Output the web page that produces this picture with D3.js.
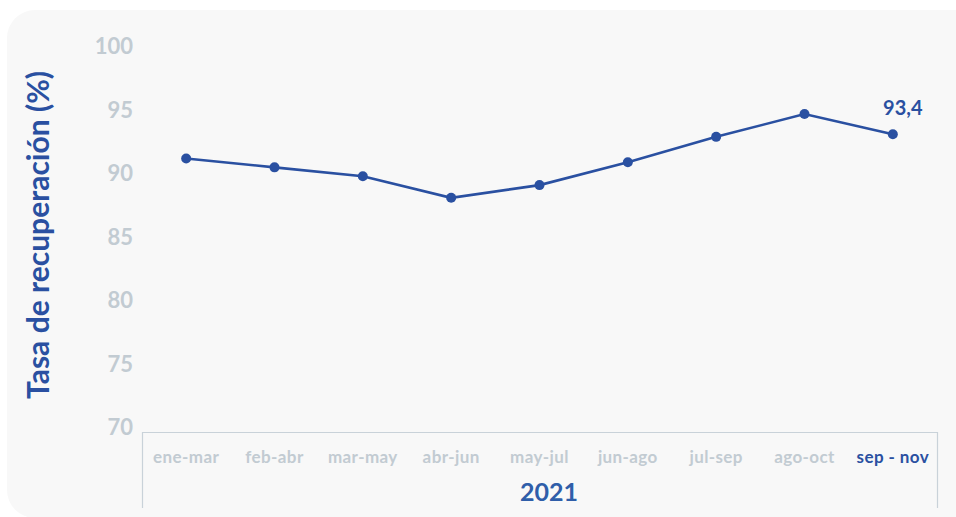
<!DOCTYPE html>
<html>
<head>
<meta charset="utf-8">
<script src="https://cdn.jsdelivr.net/npm/d3@7"></script>
<style>
  html, body { margin:0; padding:0; background:#ffffff; }
  svg { display:block; font-family: Lato, "Open Sans", sans-serif; }
</style>
</head>
<body>
<div id="chart"></div>
<script>
// data
var categories = ["ene-mar","feb-abr","mar-may","abr-jun","may-jul","jun-ago","jul-sep","ago-oct","sep - nov"];
var tasa = [91.5, 90.8, 90.1, 88.4, 89.4, 91.2, 93.2, 95.0, 93.4];
var yTicks = [70, 75, 80, 85, 90, 95, 100];
var yearLabel = "2021";
var yTitle = "Tasa de recuperación (%)";

var W = 956, H = 517;
var blue = "#2a50a1", gray = "#c2cbd2";

var svg = d3.select("#chart").append("svg")
    .attr("width", W)
    .attr("height", H);

// card background
svg.append("rect")
    .attr("x", 7).attr("y", 10)
    .attr("width", 975).attr("height", 508)
    .attr("rx", 28).attr("ry", 28)
    .style("fill", "#f8f8f8");

var x = d3.scaleBand()
    .domain(categories)
    .range([142, 937]);

var y = d3.scaleLinear()
    .domain([70, 100])
    .range([431.5, 50.5]);

// y tick labels (no axis line)
svg.append("g").selectAll("text")
    .data(yTicks)
    .enter().append("text")
        .attr("x", 133)
        .attr("y", function(d){ return y(d) - 4; })
        .attr("dy", "0.35em")
        .style("text-anchor", "end")
        .style("font-size", "22px")
        .style("font-weight", "bold")
        .style("fill", gray)
        .text(function(d){ return d; });

// x axis box
svg.append("path")
    .attr("d", "M142.5,508 V432.5 H937.5 V508")
    .style("fill", "none")
    .style("stroke", "#c9d2d9")
    .style("stroke-width", 1.2);

svg.append("g").selectAll("text")
    .data(categories)
    .enter().append("text")
        .attr("x", function(d){ return x(d) + x.bandwidth()/2; })
        .attr("y", 457)
        .attr("dy", "0.35em")
        .style("text-anchor", "middle")
        .style("font-size", "17px")
        .style("letter-spacing", "0.4px")
        .style("font-weight", "bold")
        .style("fill", function(d,i){ return i == categories.length-1 ? blue : gray; })
        .text(function(d){ return d; });

svg.append("text")
    .attr("x", 549)
    .attr("y", 492)
    .attr("dy", "0.35em")
    .style("text-anchor", "middle")
    .style("font-size", "25px")
    .style("font-weight", "bold")
    .style("fill", "#2f5ea9")
    .text(yearLabel);

// y title
svg.append("text")
    .attr("transform", "translate(38,235) rotate(-90)")
    .attr("dy", "0.35em")
    .style("text-anchor", "middle")
    .style("font-size", "30px")
    .style("font-weight", "bold")
    .style("fill", blue)
    .text(yTitle);

// line + points
var line = d3.line()
    .x(function(d,i){ return x(categories[i]) + x.bandwidth()/2; })
    .y(function(d){ return y(d); });

svg.append("path")
    .datum(tasa)
    .attr("d", line)
    .style("fill", "none")
    .style("stroke", blue)
    .style("stroke-width", 2.6);

svg.append("g").selectAll("circle")
    .data(tasa)
    .enter().append("circle")
        .attr("cx", function(d,i){ return x(categories[i]) + x.bandwidth()/2; })
        .attr("cy", function(d){ return y(d); })
        .attr("r", 5)
        .style("fill", blue);

// last value label
var last = tasa.length-1;
svg.append("text")
    .attr("x", x(categories[last]) + x.bandwidth()/2 + 10)
    .attr("y", y(tasa[last]) - 26)
    .attr("dy", "0.35em")
    .style("text-anchor", "middle")
    .style("font-size", "20px")
    .style("font-weight", "bold")
    .style("fill", blue)
    .text(d3.format(".1f")(tasa[last]).replace(".", ","));
</script>
</body>
</html>
